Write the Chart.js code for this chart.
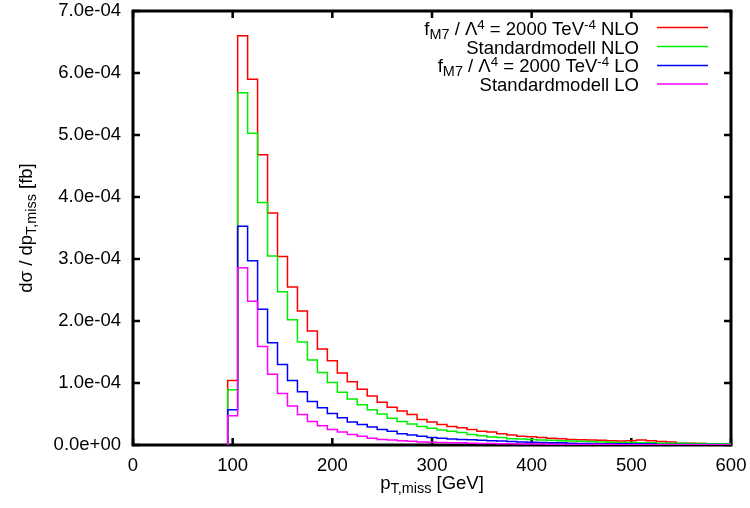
<!DOCTYPE html>
<html>
<head>
<meta charset="utf-8">
<script src="https://cdn.jsdelivr.net/npm/chart.js@4.4.1/dist/chart.umd.min.js"></script>
<style>
  html, body { margin: 0; padding: 0; background: #fff; }
  #wrap { width: 750px; height: 508px; }
</style>
</head>
<body>
<div id="wrap"><canvas id="ptChart" width="750" height="508"></canvas></div>
<script>
// bin edges in GeV (left edges, last entry closes the final bin)
const binEdges = [95, 105, 115, 125, 135, 145, 155, 165, 175, 185,
  195, 205, 215, 225, 235, 245, 255, 265, 275, 285,
  295, 305, 315, 325, 335, 345, 355, 365, 375, 385,
  395, 405, 415, 425, 435, 445, 455, 465, 475, 485,
  495, 505, 515, 525, 535, 545, 555, 565, 575, 585,
  595, 605];

// values in units of 1e-4 fb
const fm7NLO = [1.04, 6.60, 5.90, 4.68, 3.74, 3.04, 2.55, 2.16, 1.84, 1.55,
  1.36, 1.16, 1.02, 0.90, 0.79, 0.69, 0.61, 0.55, 0.49, 0.41,
  0.37, 0.33, 0.30, 0.28, 0.25, 0.22, 0.21, 0.18, 0.16, 0.14,
  0.135, 0.12, 0.11, 0.10, 0.09, 0.085, 0.08, 0.075, 0.07, 0.065,
  0.07, 0.08, 0.07, 0.055, 0.05, 0.03, 0.03, 0.025, 0.02, 0.02,
  0.02];
const smNLO = [0.89, 5.68, 5.03, 3.91, 3.05, 2.47, 2.02, 1.66, 1.37, 1.17,
  1.01, 0.85, 0.74, 0.65, 0.57, 0.50, 0.43, 0.38, 0.34, 0.30,
  0.27, 0.24, 0.22, 0.20, 0.17, 0.15, 0.13, 0.12, 0.10, 0.095,
  0.09, 0.08, 0.075, 0.07, 0.065, 0.06, 0.055, 0.05, 0.045, 0.04,
  0.04, 0.035, 0.035, 0.03, 0.03, 0.03, 0.025, 0.025, 0.02, 0.02,
  0.02];
const fm7LO = [0.57, 3.53, 2.97, 2.19, 1.65, 1.30, 1.04, 0.86, 0.70, 0.60,
  0.51, 0.44, 0.37, 0.33, 0.29, 0.25, 0.22, 0.18, 0.16, 0.14,
  0.12, 0.11, 0.095, 0.09, 0.085, 0.075, 0.07, 0.065, 0.055, 0.05,
  0.045, 0.04, 0.035, 0.035, 0.03, 0.025, 0.025, 0.02, 0.02, 0.02,
  0.015, 0.015, 0.015, 0.01, 0.01, 0.01, 0.01, 0.01, 0.01, 0.01,
  0.01];
const smLO = [0.47, 2.86, 2.32, 1.59, 1.14, 0.83, 0.63, 0.49, 0.38, 0.31,
  0.25, 0.21, 0.17, 0.14, 0.11, 0.09, 0.08, 0.07, 0.06, 0.05,
  0.045, 0.04, 0.035, 0.035, 0.03, 0.025, 0.025, 0.02, 0.02, 0.015,
  0.015, 0.015, 0.01, 0.01, 0.01, 0.01, 0.008, 0.008, 0.008, 0.006,
  0.006, 0.006, 0.005, 0.005, 0.005, 0.005, 0.004, 0.004, 0.004, 0.004,
  0.004];

const seriesColors = ['#ff0000', '#00ee00', '#0000ff', '#ff00ff'];
// text parts: 0 = normal, -1 = subscript, 1 = superscript
const legendRows = [
  [['f', 0], ['M7', -1], [' / \u039B', 0], ['4', 1], [' = 2000 TeV', 0], ['-4', 1], [' NLO', 0]],
  [['Standardmodell NLO', 0]],
  [['f', 0], ['M7', -1], [' / \u039B', 0], ['4', 1], [' = 2000 TeV', 0], ['-4', 1], [' LO', 0]],
  [['Standardmodell LO', 0]]
];
const xTitle = [['p', 0], ['T,miss', -1], [' [GeV]', 0]];
const yTitle = [['d\u03C3 / dp', 0], ['T,miss', -1], [' [fb]', 0]];

const FONT = '"Liberation Sans", Arial, Helvetica, sans-serif';
const FS = 18.5;

// histogram outline: start on the baseline, then one point per bin edge
const histPoints = (vals) => {
  const pts = [{x: binEdges[0], y: 0}];
  vals.forEach((v, i) => pts.push({x: binEdges[i], y: v * 1e-4}));
  pts.push({x: binEdges[vals.length], y: vals[vals.length - 1] * 1e-4});
  return pts;
};

const mkSet = (vals, color, order) => ({
  data: histPoints(vals),
  borderColor: color,
  borderWidth: 1.5,
  pointRadius: 0,
  fill: false,
  stepped: true,
  tension: 0,
  order: order
});

const partSize = (m) => m === 0 ? FS : (m === -1 ? FS * 0.78 : FS * 0.72);
const partShift = (m) => m === -1 ? FS * 0.24 : (m === 1 ? -FS * 0.32 : 0);

function richWidth(ctx, parts) {
  let w = 0;
  parts.forEach(([t, m]) => {
    ctx.font = partSize(m) + 'px ' + FONT;
    w += ctx.measureText(t).width;
  });
  return w;
}

// y is the alphabetic baseline of the normal text
function richDraw(ctx, parts, x, y) {
  ctx.textBaseline = 'alphabetic';
  ctx.textAlign = 'left';
  parts.forEach(([t, m]) => {
    ctx.font = partSize(m) + 'px ' + FONT;
    ctx.fillText(t, x, y + partShift(m));
    x += ctx.measureText(t).width;
  });
}

const gnuFrame = {
  id: 'gnuFrame',
  beforeDatasetsDraw(chart) {
    const {ctx, chartArea: a, scales} = chart;
    ctx.save();
    ctx.strokeStyle = '#000';
    ctx.lineWidth = 2.5;
    ctx.beginPath();
    scales.y.ticks.forEach(t => {
      const y = scales.y.getPixelForValue(t.value);
      ctx.moveTo(a.left, y); ctx.lineTo(a.left + 7, y);
      ctx.moveTo(a.right, y); ctx.lineTo(a.right - 7, y);
    });
    scales.x.ticks.forEach(t => {
      const x = scales.x.getPixelForValue(t.value);
      ctx.moveTo(x, a.bottom); ctx.lineTo(x, a.bottom - 7);
      ctx.moveTo(x, a.top); ctx.lineTo(x, a.top + 7);
    });
    ctx.stroke();
    ctx.lineWidth = 3;
    ctx.strokeRect(a.left, a.top, a.right - a.left, a.bottom - a.top);
    ctx.restore();
  },
  afterDraw(chart) {
    const {ctx, chartArea: a} = chart;
    ctx.save();
    ctx.fillStyle = '#000';
    // legend, top right
    const textRight = 639, lineL = 657, lineR = 708;
    const baseY = [34.5, 53.5, 72, 90.5];
    const lineY = [27.5, 46.5, 65.5, 84];
    legendRows.forEach((row, i) => {
      const w = richWidth(ctx, row);
      richDraw(ctx, row, textRight - w, baseY[i]);
      ctx.strokeStyle = seriesColors[i];
      ctx.lineWidth = 1.5;
      ctx.beginPath();
      ctx.moveTo(lineL, lineY[i]);
      ctx.lineTo(lineR, lineY[i]);
      ctx.stroke();
    });
    // x title
    const wx = richWidth(ctx, xTitle);
    richDraw(ctx, xTitle, (a.left + a.right) / 2 - wx / 2, 489);
    // y title
    ctx.translate(32, (a.top + a.bottom) / 2);
    ctx.rotate(-Math.PI / 2);
    const wy = richWidth(ctx, yTitle);
    richDraw(ctx, yTitle, -wy / 2, 0);
    ctx.restore();
  }
};

const ptChart = new Chart(document.getElementById('ptChart'), {
  type: 'line',
  data: {
    datasets: [
      mkSet(fm7NLO, seriesColors[0], 4),
      mkSet(smNLO, seriesColors[1], 3),
      mkSet(fm7LO, seriesColors[2], 2),
      mkSet(smLO, seriesColors[3], 1)
    ]
  },
  options: {
    responsive: false,
    animation: false,
    layout: { padding: { top: 11, right: 19, left: 0, bottom: 0 } },
    plugins: { legend: { display: false }, tooltip: { enabled: false } },
    scales: {
      x: {
        type: 'linear',
        min: 0,
        max: 600,
        grid: { display: false, drawTicks: false },
        border: { display: false },
        ticks: {
          stepSize: 100,
          color: '#000',
          padding: 10,
          maxRotation: 0,
          font: { family: FONT, size: FS }
        },
        afterFit: (s) => {
          s.height = 63;
          s.paddingLeft = 0;
          s.paddingRight = 0;
        }
      },
      y: {
        min: 0,
        max: 7e-4,
        grid: { display: false, drawTicks: false },
        border: { display: false },
        ticks: {
          stepSize: 1e-4,
          color: '#000',
          padding: 12,
          font: { family: FONT, size: FS },
          callback: (v) => {
            const s = Number(v).toExponential(1);
            return s.replace(/e([+-])(\d)$/, 'e$10$2');
          }
        },
        afterFit: (s) => {
          s.width = 133;
          s.paddingTop = 0;
          s.paddingBottom = 0;
        }
      }
    }
  },
  plugins: [gnuFrame]
});
</script>
</body>
</html>
